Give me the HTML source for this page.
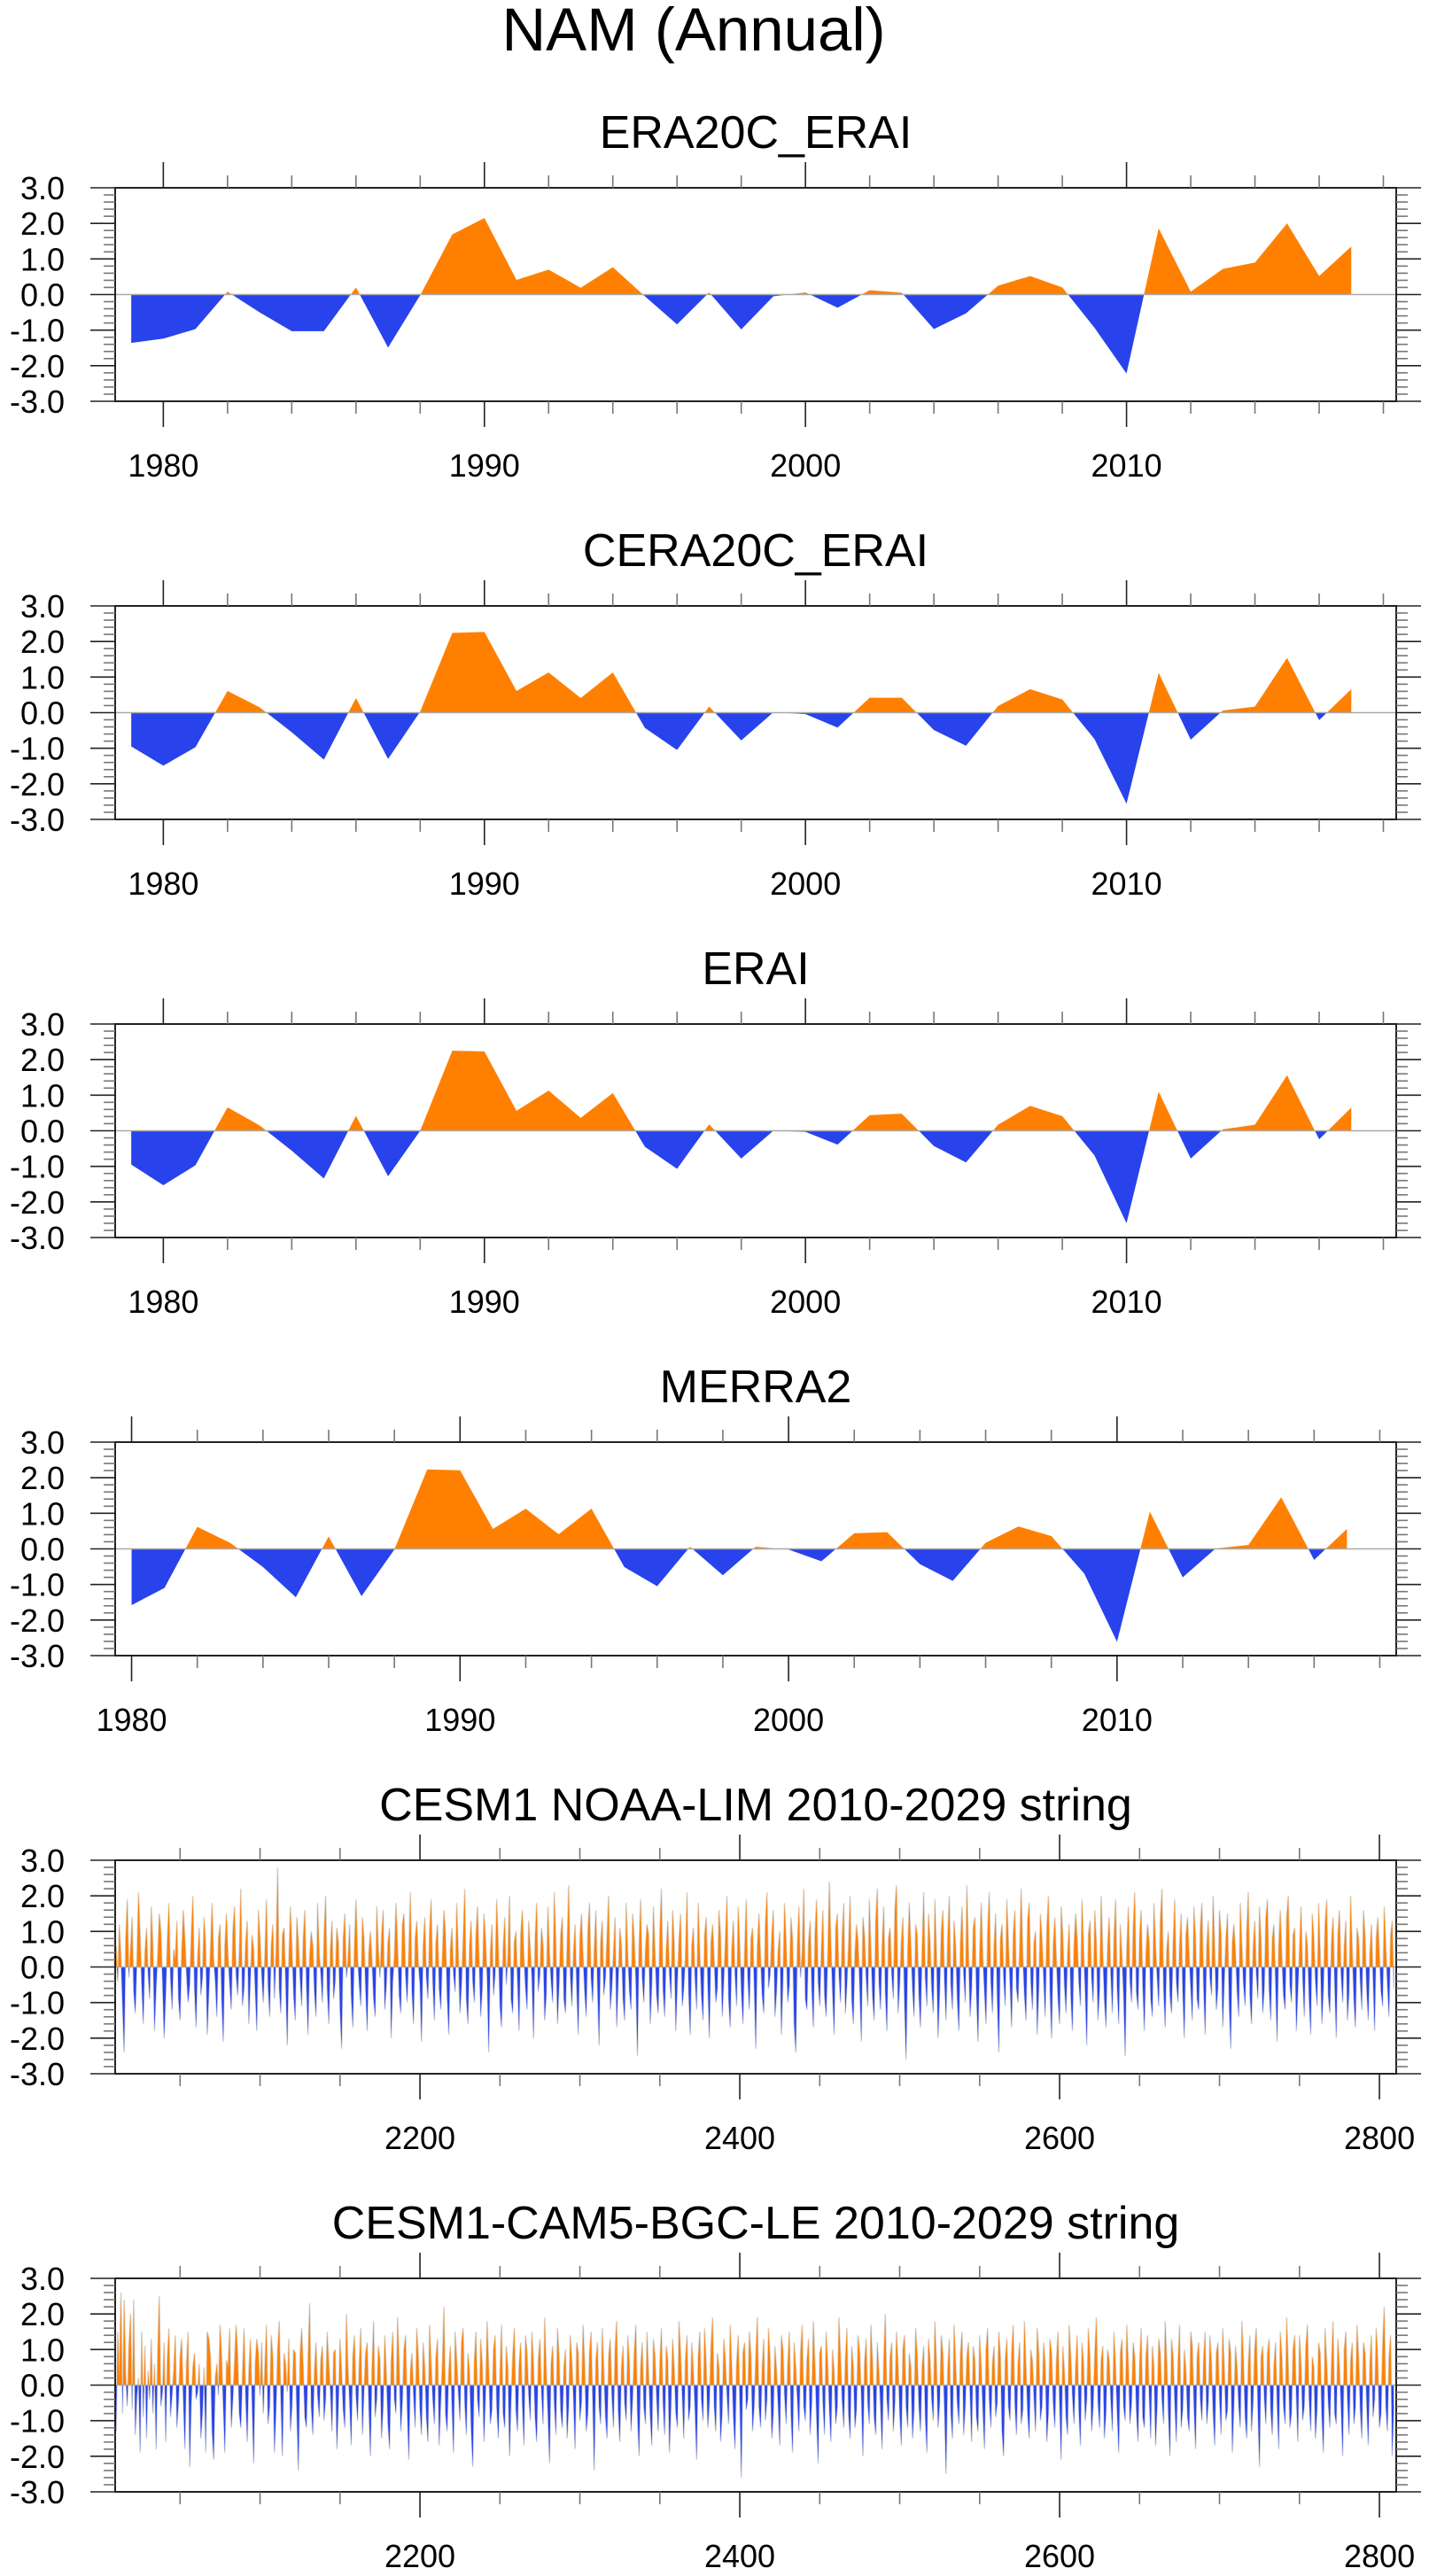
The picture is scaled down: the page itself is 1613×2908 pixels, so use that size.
<!DOCTYPE html>
<html><head><meta charset="utf-8"><title>NAM (Annual)</title>
<style>html,body{margin:0;padding:0;background:#fff}svg{display:block}text{font-family:"Liberation Sans",Arial,sans-serif;fill:#000}</style>
</head><body>
<svg id="fig" xmlns="http://www.w3.org/2000/svg" width="1613" height="2908" viewBox="0 0 1613 2908">
<rect width="1613" height="2908" fill="#fff"/>
<text x="783" y="57" font-size="69" text-anchor="middle">NAM (Annual)</text>
</svg>
<script>
const titles = ["ERA20C_ERAI","CERA20C_ERAI","ERAI","MERRA2","CESM1 NOAA-LIM 2010-2029 string","CESM1-CAM5-BGC-LE 2010-2029 string"];
const yTicks = [-3,-2,-1,0,1,2,3];
const yTickLabels = ["-3.0","-2.0","-1.0","0.0","1.0","2.0","3.0"];
const era20cErai = [-1.36,-1.24,-0.97,0.08,-0.5,-1.03,-1.03,0.2,-1.49,-0.02,1.69,2.15,0.41,0.7,0.19,0.77,-0.05,-0.84,0.06,-0.98,-0.05,0.06,-0.37,0.12,0.05,-0.97,-0.53,0.25,0.52,0.2,-0.93,-2.22,1.86,0.08,0.72,0.9,2.0,0.52,1.35];
const cera20cErai = [-0.95,-1.49,-0.97,0.61,0.15,-0.55,-1.32,0.41,-1.30,0.03,2.24,2.27,0.61,1.13,0.41,1.13,-0.43,-1.05,0.17,-0.78,0.01,-0.04,-0.42,0.42,0.42,-0.49,-0.93,0.19,0.66,0.37,-0.74,-2.56,1.12,-0.76,0.06,0.17,1.54,-0.21,0.66];
const erai = [-0.95,-1.53,-0.97,0.66,0.15,-0.56,-1.34,0.42,-1.28,0.0,2.25,2.23,0.56,1.13,0.36,1.06,-0.45,-1.07,0.18,-0.78,0.0,-0.03,-0.39,0.44,0.48,-0.43,-0.89,0.17,0.70,0.41,-0.69,-2.60,1.10,-0.78,0.04,0.17,1.56,-0.24,0.65];
const merra2 = [-1.58,-1.10,0.62,0.17,-0.51,-1.36,0.35,-1.33,-0.02,2.23,2.21,0.56,1.13,0.41,1.13,-0.51,-1.05,0.06,-0.74,0.06,-0.02,-0.35,0.44,0.47,-0.43,-0.90,0.17,0.63,0.36,-0.69,-2.61,1.05,-0.80,0.01,0.11,1.45,-0.31,0.56];
const cesmLim = [
0.6,-0.4,1.2,0.3,-1.1,-2.4,0.8,1.9,-0.3,0.5,1.4,-0.7,-1.3,0.2,2.1,0.9,-0.5,-1.6,0.4,1.1,
-0.2,-0.9,1.7,0.6,-1.8,-0.6,0.3,1.5,1.0,-0.4,-2.0,-0.8,0.7,1.8,-0.3,-1.2,0.5,0.2,1.3,-0.9,
-1.5,0.4,1.6,0.8,-0.2,-1.0,-0.5,0.9,2.0,-0.6,-1.7,0.3,1.1,-0.8,-0.3,1.4,0.6,-1.9,-0.7,0.5,
1.8,0.2,-0.4,-1.4,0.8,1.2,-0.9,-2.1,0.6,1.5,0.3,-0.5,-1.2,1.0,1.7,-0.2,-0.8,0.4,2.2,-1.1,
-0.6,0.7,1.3,-1.6,-0.3,0.9,0.5,-0.7,-1.8,1.6,0.8,-0.2,-1.0,0.3,1.9,-0.5,-1.4,0.6,1.2,-0.9,
0.4,2.8,-0.6,-1.3,0.9,1.1,-0.4,-2.2,0.2,1.7,0.5,-0.8,-1.5,1.4,0.7,-0.3,-1.1,0.8,1.6,-0.5,
-1.9,0.3,1.0,0.6,-0.7,-1.4,1.8,0.4,-0.2,-1.0,0.9,2.0,-0.6,-1.6,0.5,1.3,-0.9,-0.4,1.1,0.7,
-1.2,-2.3,0.8,1.5,-0.3,0.2,1.2,-0.8,-1.7,0.6,1.9,0.3,-0.5,-1.1,1.4,0.8,-0.6,-1.8,0.4,1.0,
0.2,-0.9,-1.4,1.7,0.5,-0.3,0.9,1.6,-1.2,-0.5,0.7,1.1,-2.0,-0.4,0.3,1.8,0.6,-0.8,-1.3,1.2,
1.5,-0.2,-1.0,0.4,2.1,-0.7,-1.6,0.8,1.3,0.1,-0.5,-2.1,0.6,1.4,-0.3,-0.9,1.0,1.9,-0.4,-1.5,
0.7,1.2,-0.6,-1.2,0.3,1.6,0.9,-0.8,-1.9,0.5,1.1,-0.2,-0.7,1.8,0.4,-1.3,-0.5,0.8,2.2,-0.9,
-1.6,0.6,1.3,-0.4,-1.0,0.9,1.7,0.2,-1.4,-0.6,1.5,0.8,-0.3,-2.4,0.4,1.2,-0.8,-0.2,1.9,0.6,
-1.1,-1.7,0.5,1.4,-0.5,0.3,2.0,-0.9,-1.3,0.7,1.0,-0.4,-1.8,0.9,1.6,0.3,-0.6,-1.2,1.3,0.5,
-0.3,-2.0,0.8,1.8,-0.7,-0.2,1.1,0.6,-1.5,-0.8,1.7,0.4,-0.4,-1.0,2.1,0.7,-1.6,-0.5,0.9,1.4,
-0.9,-1.3,0.6,2.3,-0.2,-1.1,0.4,1.2,-0.6,-1.9,0.8,1.5,0.3,-0.7,-1.4,1.0,1.8,-0.3,-1.0,0.5,
1.6,-0.5,-2.2,0.7,1.3,-0.8,-0.3,0.9,2.0,-1.2,-0.6,0.4,1.4,-1.7,-0.4,1.1,0.6,-0.9,-1.5,1.8,
0.3,-0.7,-1.2,1.5,0.8,-0.4,-2.5,0.6,1.9,-0.3,-1.0,0.5,1.2,0.9,-1.6,-0.5,1.7,0.4,-0.8,-1.3,
1.0,2.2,-0.6,-1.4,0.5,1.3,-0.2,-0.9,1.6,0.7,-1.8,-0.4,0.8,1.5,-1.1,-0.6,0.3,2.1,-0.7,-1.9,
0.6,1.1,-0.3,-1.2,1.8,0.4,-0.8,-1.5,0.9,1.4,-0.5,-2.0,0.7,1.2,0.2,-1.0,-0.6,1.6,0.9,-1.4,
-0.4,0.8,2.0,-0.9,-1.7,0.5,1.3,-0.2,-1.1,1.7,0.6,-0.7,-1.6,0.4,1.9,-0.3,-1.2,0.8,1.1,-0.5,
-2.3,0.6,1.5,0.3,-0.8,-1.3,1.2,2.1,-0.6,-0.2,0.9,1.6,-1.4,-0.7,0.5,1.0,-1.9,-0.4,1.8,0.7,
-1.0,-0.5,1.4,0.8,-1.6,-2.4,0.6,1.7,-0.3,0.4,2.2,-0.9,-1.2,0.7,1.3,-0.6,-1.7,0.9,1.9,-0.4,
-1.1,0.5,1.6,-0.8,-1.4,0.3,2.4,0.6,-0.7,-1.9,1.1,1.5,-0.2,-1.0,0.8,1.8,-1.3,-0.5,0.6,2.0,
-0.9,-1.6,0.4,1.2,0.7,-0.6,-2.1,1.4,0.9,-0.3,-1.1,1.9,0.5,-0.8,-1.5,1.3,2.2,-0.4,-1.2,0.6,
1.7,-0.7,-1.8,0.8,1.1,-0.2,-0.9,1.6,2.3,-1.3,-0.5,0.7,1.4,-1.0,-2.6,0.4,1.8,0.6,-0.6,-1.4,
1.2,0.9,-0.8,-1.7,0.5,2.1,-0.3,-1.1,1.5,0.7,-0.6,-1.3,1.9,0.4,-2.0,-0.7,1.0,1.6,-0.4,-1.5,
0.8,2.0,-0.5,-1.2,1.3,0.6,-0.9,-1.8,0.7,1.7,-0.2,-1.0,2.3,0.5,-1.4,-0.6,1.1,1.4,-0.8,-2.1,
0.4,1.8,0.3,-0.7,-1.6,1.0,2.1,-0.4,-1.3,0.6,1.5,-0.9,-2.4,0.8,1.2,-0.3,-1.1,1.9,0.7,-0.5,
-1.7,0.9,1.6,-0.6,-1.0,0.5,2.2,0.3,-0.8,-1.5,1.3,1.8,-0.4,-1.2,0.7,1.0,-1.9,-0.6,1.5,0.8,
-0.3,-1.4,1.1,2.0,-0.7,-2.0,0.6,1.4,0.2,-0.9,-1.6,1.7,0.9,-0.5,-1.3,0.4,1.2,-0.8,-1.8,0.6,
1.5,0.8,-0.4,-1.1,1.9,0.5,-0.7,-2.2,0.9,1.3,-0.3,-1.0,1.6,0.7,-1.5,-0.6,2.0,0.4,-0.9,-1.7,
0.6,1.4,-0.2,-1.3,0.8,1.9,-0.6,-1.6,1.2,0.3,-0.8,-2.5,0.5,1.7,-0.4,-1.0,1.1,2.1,-0.7,-1.2,
0.9,1.6,-0.5,-1.8,0.4,1.2,0.7,-0.9,-1.4,1.8,0.6,-0.3,-1.1,1.3,2.2,-0.6,-1.7,0.5,1.0,-0.8,
-1.3,0.7,1.9,-0.4,-1.0,0.6,1.5,-0.7,-2.0,0.9,1.4,0.3,-0.6,-1.5,1.7,0.8,-0.9,-1.2,1.1,1.8,
-0.5,-1.9,0.6,1.3,-0.3,-0.8,2.0,0.5,-1.2,-0.6,1.6,0.9,-1.7,-0.4,0.8,1.5,-1.0,-2.3,0.7,1.2,
0.4,-0.7,-1.4,1.8,0.6,-0.5,-1.1,1.0,2.1,-0.8,-1.6,0.5,1.3,-0.2,-0.9,1.7,0.7,-1.3,-0.6,1.4,
1.9,-0.6,-1.5,0.8,1.2,-0.4,-2.1,0.6,1.6,0.3,-0.8,-1.2,1.4,2.0,-0.5,-1.0,0.9,1.1,-1.8,-0.7,
0.5,1.7,-0.3,-1.4,1.0,0.6,-0.9,-1.9,1.5,0.8,-0.4,-1.1,1.8,0.4,-1.6,-0.6,1.2,1.9,-0.8,-1.3,
0.7,1.4,-0.5,-2.0,0.9,1.6,-0.2,-1.0,0.6,1.3,-1.5,-0.7,2.0,0.5,-0.9,-1.7,1.1,0.8,-0.4,-1.2,
1.6,0.9,-0.6,-1.5,0.4,1.2,-0.3,-1.8,0.8,1.4,0.3,-0.7,-1.1,1.7,0.6,-0.5,-1.4,0.9,1.3,-0.6];
const cesmBgc = [
-1.3,1.5,0.2,2.6,-0.8,2.4,0.3,-0.6,1.1,2.0,-0.7,2.4,-1.4,-0.3,0.2,-1.9,1.5,-0.9,1.1,-1.5,
0.4,-0.4,1.3,-0.8,0.6,-1.8,0.9,2.5,-0.6,-0.2,1.2,-1.6,0.7,1.6,-0.9,-0.3,0.4,1.4,-1.2,-0.5,
0.8,1.3,-0.4,-1.8,0.6,1.5,-2.3,-0.5,0.5,0.9,-0.4,-0.2,0.6,-1.5,-0.8,0.5,-1.9,1.5,1.3,0.8,
-1.3,-2.1,0.2,0.6,-0.3,1.7,0.8,-0.6,-1.9,0.7,0.5,1.6,-1.2,-0.4,0.6,1.7,0.9,-0.8,-1.2,0.3,
1.6,-0.4,-1.6,0.4,1.3,-0.5,-2.2,0.6,1.3,0.9,-0.3,1.2,-0.8,0.5,1.7,-1.1,-0.6,1.4,0.8,-1.9,
-0.7,1.0,1.8,-0.4,-2.0,0.9,0.6,-0.2,1.3,-1.3,-0.6,1.0,0.9,-0.8,-2.4,0.8,1.6,0.5,-0.9,-1.2,
0.7,2.3,-0.6,-1.4,0.4,1.2,-0.3,-0.9,0.7,1.1,-1.0,-0.4,1.5,0.6,-0.2,-1.3,0.9,1.0,-1.8,-0.6,
1.3,0.4,-0.7,-1.2,2.0,0.5,-0.5,-1.7,0.8,1.4,-0.3,-1.0,0.6,1.6,-1.4,-0.2,0.9,1.2,-0.6,-2.0,
0.5,1.8,-0.9,-0.4,1.1,0.7,-1.5,-0.6,1.4,0.3,-1.1,-1.8,0.7,1.5,-0.4,-0.8,1.9,0.6,-1.3,-0.5,
1.0,1.4,-0.6,-2.1,0.4,0.9,-0.3,-1.2,1.6,0.8,-0.7,-1.4,1.2,0.5,-0.9,-1.6,1.7,0.6,-0.4,-1.1,
0.8,1.3,-1.7,-0.5,0.6,2.2,-0.8,-1.3,0.4,1.1,-0.6,-1.9,1.5,0.7,-0.2,-1.0,1.2,1.6,-0.5,-1.4,
0.9,0.4,-1.2,-2.3,0.7,1.5,-0.4,-0.9,1.3,0.6,-1.6,-0.3,1.8,0.5,-1.1,-0.7,1.0,1.4,-0.6,-1.5,
0.3,1.7,-0.8,-1.2,1.1,0.5,-2.0,-0.4,0.8,1.6,-0.7,-1.3,0.6,1.2,-0.5,-1.7,1.4,0.9,-0.3,-1.0,
1.5,0.6,-0.9,-1.6,0.7,1.3,-0.2,-1.1,1.9,0.4,-0.8,-2.2,0.6,1.1,-0.5,-1.4,1.6,0.8,-0.7,-1.2,
0.5,1.0,-1.5,-0.6,1.4,0.7,-0.4,-1.8,1.2,0.9,-1.0,-0.5,1.7,0.6,-1.3,-0.8,0.9,1.5,-0.4,-2.4,
0.7,1.2,-0.6,-1.1,1.6,0.4,-0.9,-1.5,0.8,1.3,-0.3,-1.2,1.0,1.8,-0.7,-1.6,0.5,1.1,-0.5,-1.0,
1.4,0.6,-1.3,-0.4,0.9,1.7,-0.8,-2.0,0.5,1.2,-0.6,-1.1,1.5,0.3,-0.9,-1.7,1.3,0.8,-0.4,-1.3,
0.6,1.6,-0.5,-1.4,1.1,0.7,-1.9,-0.6,1.3,0.5,-0.8,-1.2,1.8,0.9,-0.3,-1.5,0.7,1.4,-1.0,-0.6,
1.2,0.4,-0.7,-2.1,0.8,1.5,-0.4,-1.0,1.6,0.6,-1.2,-0.5,1.1,1.9,-0.6,-1.3,0.9,0.5,-1.6,-0.8,
1.3,0.7,-0.3,-1.1,1.7,0.5,-0.9,-1.8,0.6,1.4,-0.5,-2.6,0.9,1.2,-0.7,-0.4,1.5,0.8,-1.3,-0.6,
0.8,1.9,-0.6,-1.2,0.5,1.3,-1.0,-0.4,1.6,0.7,-1.5,-0.8,1.1,0.4,-0.6,-1.7,1.4,1.0,-0.3,-1.1,
0.6,1.5,-0.8,-1.9,1.2,0.5,-0.4,-1.3,0.9,1.7,-0.6,-1.0,0.7,1.3,-1.4,-0.5,1.8,0.6,-0.9,-2.2,
0.9,1.1,-0.5,-1.4,1.5,0.6,-0.7,-1.6,1.0,0.4,-1.1,-0.6,1.9,0.8,-0.4,-1.2,0.7,1.6,-0.8,-1.5,
1.1,0.5,-1.2,-0.7,1.4,0.9,-0.3,-2.0,0.6,1.3,-0.5,-1.1,1.7,0.7,-0.9,-1.4,1.2,0.4,-0.6,-1.8,
0.7,2.0,-0.4,-1.0,0.8,1.2,-1.3,-0.5,1.5,0.6,-0.8,-1.7,1.0,1.4,-0.6,-1.2,0.9,0.5,-1.5,-0.7,
1.6,0.8,-0.6,-1.3,0.5,1.1,-0.9,-1.9,1.3,0.7,-0.4,-1.0,1.8,0.6,-1.2,-0.5,1.4,0.9,-0.7,-2.5,
0.4,1.3,-0.8,-1.5,1.7,0.6,-0.5,-1.1,0.9,1.5,-1.4,-0.6,0.8,1.2,-0.3,-1.6,1.1,0.7,-0.9,-1.3,
1.4,0.5,-0.7,-1.8,1.0,1.6,-0.4,-1.2,0.6,1.1,-0.9,-0.5,1.5,0.8,-1.3,-2.0,0.7,1.3,-0.6,-1.0,
0.9,1.7,-0.5,-1.4,0.6,1.2,-1.1,-0.7,1.8,0.5,-0.8,-1.5,1.0,0.7,-0.4,-1.3,1.6,0.9,-1.0,-0.6,
1.2,0.6,-1.6,-0.8,1.3,0.9,-0.5,-1.2,0.7,1.5,-0.6,-2.1,1.1,0.4,-0.9,-1.4,1.7,0.8,-0.3,-1.1,
0.5,1.4,-0.7,-1.7,1.2,0.6,-1.0,-0.4,1.6,0.8,-1.3,-0.6,0.9,1.9,-0.5,-1.2,0.7,1.1,-1.5,-0.8,
1.0,0.7,-0.4,-1.3,1.5,0.5,-0.8,-1.9,0.9,1.3,-0.6,-1.0,1.7,0.6,-1.1,-0.5,1.2,0.8,-0.7,-1.6,
0.6,1.6,-0.9,-1.2,0.8,1.4,-0.3,-1.5,1.1,0.5,-1.7,-0.6,1.3,0.9,-0.4,-1.1,1.8,0.7,-0.8,-2.0,
1.3,0.8,-0.5,-1.6,0.6,1.7,-1.2,-0.7,1.0,0.4,-0.9,-1.3,1.5,1.1,-0.6,-1.8,0.8,1.2,-0.4,-1.0,
0.7,1.5,-1.1,-0.5,1.4,0.6,-0.8,-1.7,0.9,1.2,-0.4,-1.4,1.6,0.5,-1.0,-0.7,1.3,0.9,-1.9,-0.6,
1.1,0.5,-0.6,-1.2,1.8,0.7,-0.9,-1.5,0.6,1.4,-1.3,-0.5,1.0,1.6,-0.7,-2.3,0.8,1.1,-0.4,-1.1,
0.9,1.3,-0.7,-1.4,0.5,1.2,-0.5,-1.8,1.5,0.8,-0.6,-1.1,1.9,0.6,-1.2,-0.8,1.0,1.4,-0.3,-1.6,
1.4,0.6,-1.0,-0.6,1.1,1.7,-0.4,-1.3,0.8,0.5,-1.5,-0.7,1.2,0.9,-0.9,-1.9,1.6,0.7,-0.5,-1.2,
0.6,1.8,-0.8,-1.1,1.3,0.5,-0.6,-2.0,1.0,1.5,-0.4,-1.4,0.7,1.2,-1.1,-0.6,1.7,0.8,-0.7,-1.5,
1.2,0.9,-0.5,-1.7,0.6,1.4,-0.9,-0.4,1.6,0.7,-1.2,-0.8,1.1,2.2,-0.6,-1.3,0.8,1.4,-2.0,-0.6];
const seriesList = [era20cErai, cera20cErai, erai, merra2, cesmLim, cesmBgc];
const startYears = [1979, 1979, 1979, 1980, 2010, 2010];
const xMins = [1978.5, 1978.5, 1978.5, 1979.5, 2009.4, 2009.4];
const xMaxs = [2018.4, 2018.4, 2018.4, 2018.5, 2810.5, 2810.5];
const majorTicksAnnual = [1980, 1990, 2000, 2010];
const majorTicksCesm = [2200, 2400, 2600, 2800];

const NS = "http://www.w3.org/2000/svg";
const svg = document.getElementById('fig');
const L = 130, R = 1576, H = 241;
function mk(tag, attrs, parent) {
  const e = document.createElementNS(NS, tag);
  for (const k in attrs) e.setAttribute(k, attrs[k]);
  (parent || svg).appendChild(e);
  return e;
}
seriesList.forEach((data, p) => {
  const T = 212 + 472 * p, B = T + H;
  const g = mk('g', {});
  
  
  const xs = v => L + (v - xMins[p]) / (xMaxs[p] - xMins[p]) * (R - L);
  const ys = v => T + (3 - v) / 6 * H;
  const y0 = ys(0);
  const cesm = p >= 4;
  // title
  const t = mk('text', {x: (L + R) / 2, y: T - 45, 'font-size': 52, 'text-anchor': 'middle'}, g);
  t.textContent = titles[p];
  
  
  // clip paths
  const defs = mk('defs', {}, g);
  const cpA = mk('clipPath', {id: 'ca' + p}, defs);
  mk('rect', {x: L, y: T, width: R - L, height: y0 - T}, cpA);
  const cpB = mk('clipPath', {id: 'cb' + p}, defs);
  mk('rect', {x: L, y: y0, width: R - L, height: B - y0}, cpB);
  const pts = data.map((v, i) => xs(startYears[p] + i).toFixed(2) + ',' + ys(v).toFixed(2));
  const x0 = xs(startYears[p]), x1 = xs(startYears[p] + data.length - 1);
  const poly = x0.toFixed(2) + ',' + y0 + ' ' + pts.join(' ') + ' ' + x1.toFixed(2) + ',' + y0;
  if (cesm) {
    const ln = mk('polyline', {points: pts.join(' '), fill: 'none', stroke: '#d6d6d6', 'stroke-width': 1.6}, g);
    
    
  }
  const pa = mk('polygon', {points: poly, fill: '#FF8000', 'clip-path': 'url(#ca' + p + ')'}, g);
  
  
  const pb = mk('polygon', {points: poly, fill: '#2843EB', 'clip-path': 'url(#cb' + p + ')'}, g);
  
  
  // zero line
  const zl = mk('line', {x1: L, x2: R, y1: y0, y2: y0, stroke: '#aaaaaa', 'stroke-width': 1.5}, g);
  
  
  // frame
  const fr = mk('rect', {x: L, y: T, width: R - L, height: H, fill: 'none', stroke: '#222', 'stroke-width': 2}, g);
  
  
  // y ticks
  for (let k = 0; k <= 30; k++) {
    const v = -3 + k * 0.2, yy = ys(v);
    const major = k % 5 === 0;
    const len = major ? 28 : 13;
    const col = major ? '#222' : '#777';
    mk('line', {x1: L - len, x2: L, y1: yy, y2: yy, stroke: col, 'stroke-width': 1.6}, g);
    mk('line', {x1: R, x2: R + len, y1: yy, y2: yy, stroke: col, 'stroke-width': 1.6}, g);
  }
  yTicks.forEach((v, i) => {
    const lb = mk('text', {x: 73, y: ys(v) + 13, 'font-size': 36, 'text-anchor': 'end'}, g);
    lb.textContent = yTickLabels[i];
    
    
  });
  // x ticks
  const minorStep = cesm ? 50 : 2;
  const majors = cesm ? majorTicksCesm : majorTicksAnnual;
  const majorStep = cesm ? 200 : 10;
  for (let yv = Math.ceil(xMins[p] / minorStep) * minorStep; yv <= xMaxs[p]; yv += minorStep) {
    const xx = xs(yv);
    const major = yv % majorStep === 0;
    const len = major ? 29 : 14;
    const col = major ? '#222' : '#777';
    mk('line', {x1: xx, x2: xx, y1: T - len, y2: T, stroke: col, 'stroke-width': 1.6}, g);
    mk('line', {x1: xx, x2: xx, y1: B, y2: B + len, stroke: col, 'stroke-width': 1.6}, g);
  }
  majors.forEach(m => {
    const lb = mk('text', {x: xs(m), y: B + 85, 'font-size': 36, 'text-anchor': 'middle'}, g);
    lb.textContent = String(m);
    
    
  });
});
</script>
</body></html>
